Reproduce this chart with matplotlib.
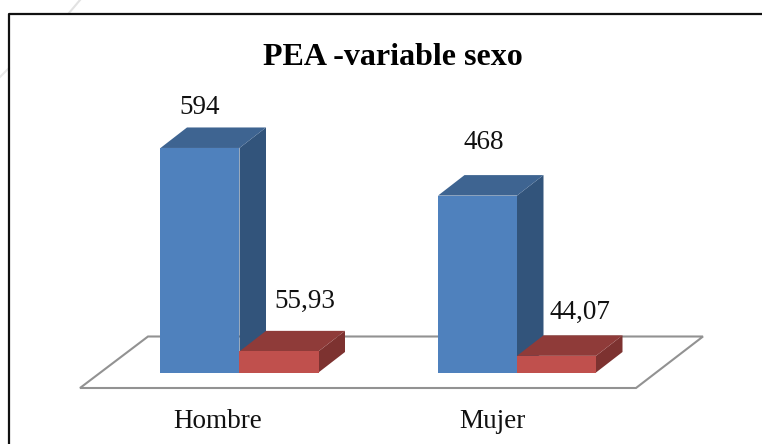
import matplotlib
matplotlib.use("Agg")
import matplotlib.pyplot as plt
from matplotlib.patches import Polygon

categories = ["Hombre", "Mujer"]
counts = [594, 468]
percents = [55.93, 44.07]
count_labels = ["594", "468"]
percent_labels = ["55,93", "44,07"]

W, H = 762, 444
PX_PER_UNIT = 0.378   # vertical scale, px per value
PX_PER_CAT = 277.5    # distance between the two groups
X0, Y0 = 239.5, 372.5  # pixel spot of category 0, value 0
BAR_W = 79.0 / PX_PER_CAT
DX = 26.5 / PX_PER_CAT
DY = 20.5 / PX_PER_UNIT


def xu(px):
    return (px - X0) / PX_PER_CAT


def yu(py):
    return (Y0 - py) / PX_PER_UNIT


def bar3d(ax, left, val, front, top, side, z):
    r = left + BAR_W
    ax.add_patch(Polygon([(r, 0), (r + DX, DY), (r + DX, val + DY), (r, val)], fc=side, ec="none", zorder=z))
    ax.add_patch(Polygon([(left, val), (r, val), (r + DX, val + DY), (left + DX, val + DY)], fc=top, ec="none", zorder=z))
    ax.add_patch(Polygon([(left, 0), (r, 0), (r, val), (left, val)], fc=front, ec="none", zorder=z))


plt.rcParams["font.family"] = ["Liberation Serif", "DejaVu Serif"]
fig = plt.figure(figsize=(W / 100, H / 100), dpi=100)
ax = fig.add_axes([0, 0, 1, 1])
ax.set_xlim(xu(0), xu(W))
ax.set_ylim(yu(H), yu(0))
ax.axis("off")

# faint decoration top left, only visible outside the frame
ax.plot([xu(80), xu(69)], [yu(0), yu(13)], color="#e2e2e2", lw=1.5, zorder=1)
ax.plot([xu(9), xu(0)], [yu(68), yu(77)], color="#e8e8e8", lw=1.5, zorder=1)

# chart frame, the crop cuts off its bottom and right
ax.plot([xu(9), xu(9), xu(W)], [yu(H), yu(13.5), yu(13.5)], color="#111111", lw=1.6, zorder=2)

# floor
ax.add_patch(Polygon([(xu(80), yu(388)), (xu(636), yu(388)), (xu(703), yu(336.5)), (xu(148), yu(336.5))],
                     fc="white", ec="#929292", lw=1.5, zorder=2))

cat_x = [218, 492]
count_x = [200, 484]
count_y = [107, 142]
pct_x = [305, 580]
pct_y = [301, 312]
for i, cat in enumerate(categories):
    bar3d(ax, i - BAR_W, counts[i], "#4f81bd", "#3e6491", "#32547b", 3)
    bar3d(ax, i, percents[i], "#c0504d", "#8f3b39", "#7d3230", 4)
    ax.text(xu(cat_x[i]), yu(421), cat, ha="center", va="center", fontsize=19.5, color="#111111")
    ax.text(xu(count_x[i]), yu(count_y[i]), count_labels[i], ha="center", va="center", fontsize=19.5, color="#111111")
    ax.text(xu(pct_x[i]), yu(pct_y[i]), percent_labels[i], ha="center", va="center", fontsize=19.5, color="#111111")

ax.text(xu(392.5), yu(57), "PEA -variable sexo", ha="center", va="center", fontsize=23, fontweight="bold", color="black")

fig.savefig("out.png", dpi=100)
plt.close(fig)
